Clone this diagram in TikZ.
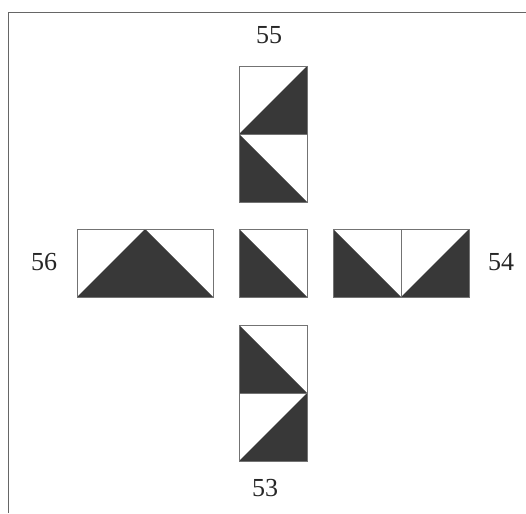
\documentclass[tikz,border=0pt]{standalone}
\usepackage{fontspec}
\setmainfont{Liberation Serif}
\begin{document}
\begin{tikzpicture}[x=1pt,y=-1pt,
  frameline/.style={draw=black!60,line width=0.9pt},
  cell/.style={draw=black!55,line width=0.8pt},
  dark/.style={fill=black!78},
  lbl/.style={font=\fontsize{26}{30}\selectfont,text=black!85,inner sep=0pt}]
\useasboundingbox (0,0) rectangle (526,513);
% frame
\draw[frameline] (8.5,513) -- (8.5,12.7) -- (526,12.7);
% top piece (55)
\fill[dark] (239,134) -- (307,66) -- (307,134) -- cycle;
\fill[dark] (239,134) -- (239,202) -- (307,202) -- cycle;
\draw[cell] (239,66) rectangle (307,202);
\draw[cell] (239,134) -- (307,134);
% center
\fill[dark] (239,229) -- (239,297) -- (307,297) -- cycle;
\draw[cell] (239,229) rectangle (307,297);
% left piece (56)
\fill[dark] (77,297) -- (145,229) -- (213,297) -- cycle;
\draw[cell] (77,229) rectangle (213,297);
% right piece (54)
\fill[dark] (333,229) -- (333,297) -- (401,297) -- cycle;
\fill[dark] (401,297) -- (469,229) -- (469,297) -- cycle;
\draw[cell] (333,229) rectangle (469,297);
\draw[cell] (401,229) -- (401,297);
% bottom piece (53)
\fill[dark] (239,325) -- (239,393) -- (307,393) -- cycle;
\fill[dark] (239,461) -- (307,393) -- (307,461) -- cycle;
\draw[cell] (239,325) rectangle (307,461);
\draw[cell] (239,393) -- (307,393);
% labels
\node[lbl] (l55) at (269,35.5) {55};
\node[lbl] (l53) at (265,488) {53};
\node[lbl] (l54) at (501,262) {54};
\node[lbl] (l56) at (44,262) {56};
\end{tikzpicture}
\end{document}
